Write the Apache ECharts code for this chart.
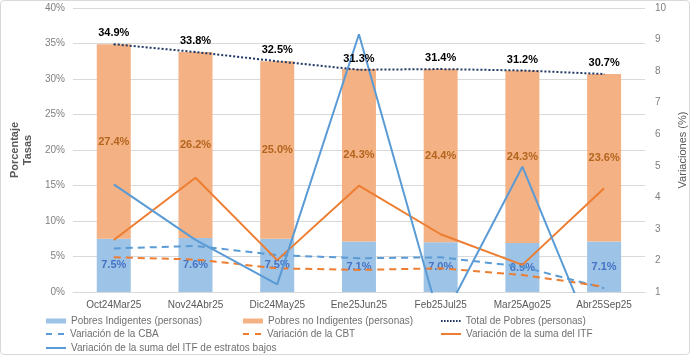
<!DOCTYPE html>
<html><head><meta charset="utf-8">
<script src="https://cdn.jsdelivr.net/npm/echarts@6/dist/echarts.min.js"></script>
<style>
html,body{margin:0;padding:0;background:#fff;}
#frame{position:absolute;left:0;top:0;width:690px;height:355px;border:1px solid #d9d9d9;border-radius:4px;box-sizing:border-box;}
#c{position:absolute;left:0;top:0;width:696px;height:362px;}
</style></head>
<body><div id="frame"></div><div id="c"></div>
<script>
const categories = ['Oct24Mar25','Nov24Abr25','Dic24May25','Ene25Jun25','Feb25Jul25','Mar25Ago25','Abr25Sep25'];
const indigentes = [7.5, 7.6, 7.5, 7.1, 7.0, 6.9, 7.1];
const noIndigentes = [27.4, 26.2, 25.0, 24.3, 24.4, 24.3, 23.6];
const totalPobres = [34.9, 33.8, 32.5, 31.3, 31.4, 31.2, 30.7];
const varCBA = [2.38, 2.46, 2.17, 2.07, 2.10, 1.80, 1.12];
const varCBT = [2.10, 2.03, 1.75, 1.70, 1.75, 1.54, 1.17];
const varITF = [2.65, 4.62, 2.01, 4.37, 2.83, 1.86, 4.29];
const varITFbajos = [4.41, 2.65, 1.24, 9.17, 0.0, 4.97, -1.3];

const N = {
  ind:'Pobres Indigentes (personas)', noind:'Pobres no Indigentes (personas)', tot:'Total de Pobres (personas)',
  cba:'Variación de la CBA', cbt:'Variación de la CBT', itf:'Variación de la suma del ITF',
  bajos:'Variación de la suma del ITF de estratos bajos'
};
const solidIcon = 'path://M0,0H20V2H0Z';
const dashIcon = 'path://M0,0H6V2H0Z M12,0H18V2H12Z';
let dots = 'path://'; for (let i = 0; i < 7; i++) { dots += 'M' + (i*3) + ',0H' + (i*3+1.6) + 'V2H' + (i*3) + 'Z '; }

const fontFam = 'Liberation Sans, Arial, sans-serif';
const legendText = {color:'#6f6f6f', fontSize:10, fontFamily: fontFam};
function lg(name, left, top, icon, h, w) {
  return {left:left, top:top, itemWidth:w || 20, itemHeight:h, itemGap:0, textStyle:legendText,
    data:[icon ? {name:name, icon:icon} : {name:name, icon:'rect'}]};
}
const chart = echarts.init(document.getElementById('c'));
chart.setOption({
  animation:false,
  textStyle:{fontFamily:fontFam},
  grid:{left:58, right:44, top:8, bottom:70},
  legend:[
    lg(N.ind, 41, 311, null, 5),
    lg(N.cba, 41, 324, dashIcon, 2),
    lg(N.bajos, 41, 338, solidIcon, 2),
    lg(N.noind, 238, 311, null, 5),
    lg(N.cbt, 238, 324, dashIcon, 2),
    lg(N.tot, 436, 311, dots, 2),
    lg(N.itf, 436, 324, solidIcon, 2)
  ],
  xAxis:{type:'category', data:categories,
    axisLine:{lineStyle:{color:'#d9d9d9'}}, axisTick:{show:false},
    axisLabel:{color:'#595959', fontSize:10, margin:8}},
  yAxis:[
    {type:'value', min:0, max:40, interval:5,
     name:'Porcentaje\nTasas', nameLocation:'middle', nameRotate:90, nameGap:33,
     nameTextStyle:{color:'#595959', fontSize:11, fontWeight:'bold', lineHeight:13},
     axisLabel:{formatter:v => v + '%', color:'#7f7f7f', fontSize:10, margin:8},
     splitLine:{lineStyle:{color:'#d9d9d9'}}, axisLine:{show:false}, axisTick:{show:false}},
    {type:'value', min:1, max:10, interval:1, position:'right',
     name:'Variaciones (%)', nameLocation:'middle', nameRotate:90, nameGap:27,
     nameTextStyle:{color:'#595959', fontSize:11},
     axisLabel:{color:'#7f7f7f', fontSize:10, margin:10},
     splitLine:{show:false}, axisLine:{show:false}, axisTick:{show:false}}
  ],
  series:[
    {name:N.ind, type:'bar', stack:'p', data:indigentes, barWidth:34,
     itemStyle:{color:'#9dc3e6'},
     label:{show:true, position:'inside', formatter:p=>p.value.toFixed(1)+'%', color:'#4472c4', fontSize:11, fontWeight:'bold'}},
    {name:N.noind, type:'bar', stack:'p', data:noIndigentes, barWidth:34,
     itemStyle:{color:'#f4b183'},
     label:{show:true, position:'inside', formatter:p=>p.value.toFixed(1)+'%', color:'#b4651e', fontSize:11, fontWeight:'bold'}},
    {name:N.tot, type:'line', data:totalPobres, symbol:'circle', symbolSize:1, showSymbol:true, z:5,
     lineStyle:{color:'#203864', width:2, type:'dotted'}, itemStyle:{color:'#203864'},
     label:{show:true, position:'top', distance:5, formatter:p=>p.value.toFixed(1)+'%', color:'#000', fontSize:11, fontWeight:'bold'}},
    {name:N.cba, type:'line', yAxisIndex:1, data:varCBA, symbol:'none', z:4,
     lineStyle:{color:'#5b9bd5', width:2, type:[7,5]}, itemStyle:{color:'#5b9bd5'}},
    {name:N.cbt, type:'line', yAxisIndex:1, data:varCBT, symbol:'none', z:4,
     lineStyle:{color:'#ed7d31', width:2, type:[7,5]}, itemStyle:{color:'#ed7d31'}},
    {name:N.itf, type:'line', yAxisIndex:1, data:varITF, symbol:'none', z:4,
     lineStyle:{color:'#ed7d31', width:2}, itemStyle:{color:'#ed7d31'}},
    {name:N.bajos, type:'line', yAxisIndex:1, data:varITFbajos, symbol:'none', z:4,
     lineStyle:{color:'#5b9bd5', width:2}, itemStyle:{color:'#5b9bd5'}}
  ]
});
</script></body></html>
